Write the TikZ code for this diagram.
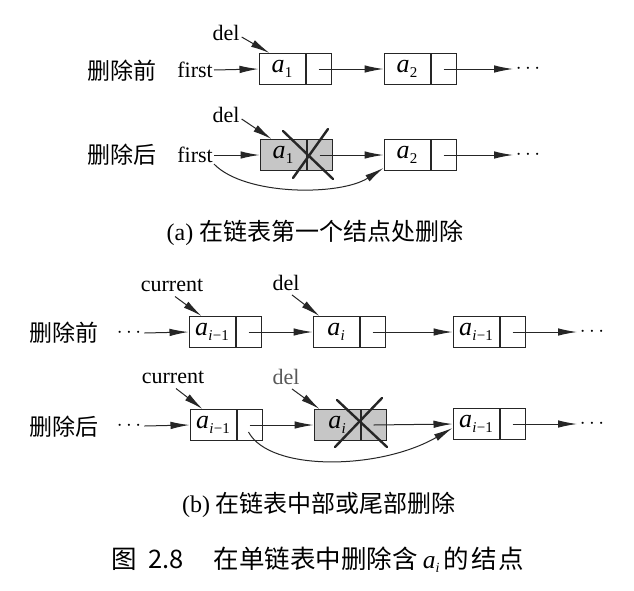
\documentclass[tikz,border=0pt]{standalone}
\usepackage{fontspec}
\setmainfont{Liberation Serif}
\newfontfamily\cjk{Noto Sans CJK SC}
\usetikzlibrary{arrows.meta,calc}
\newcommand\ael[1]{\textit{a}\kern0.3pt\raisebox{-5pt}{\fontsize{15}{15}\selectfont #1}}
\newcommand\imo{{\itshape i}\kern0.3pt−1}
\begin{document}
\begin{tikzpicture}[x=1pt,y=-1pt,
 cell/.style={draw=black!85, line width=1pt, minimum height=31pt, inner sep=0pt},
 datac/.style={cell, minimum width=46pt, font=\fontsize{26}{26}\selectfont},
 ptrc/.style={cell, minimum width=25pt, anchor=west},
 gone/.style={fill=gray!45},
 lbl/.style={font=\fontsize{22}{24}\selectfont, inner sep=1pt},
 side/.style={font=\cjk\fontsize{23}{26}\selectfont},
 link/.style={-{Latex[length=19pt,width=7.5pt]}, line width=1pt, black!85},
 cross/.style={line width=2.4pt, black!85, line cap=round},
 dots/.style={font=\fontsize{22}{22}\selectfont, inner sep=0pt}]
\useasboundingbox (0,0) rectangle (634,590);
\fill[white] (0,0) rectangle (634,590);
% ---------- (a) before
\node[side] (s1) at (122,71) {删除前};
\node[lbl, anchor=east] (f1) at (214,70) {first};
\node[lbl] (del1) at (226,33) {del};
\node[datac] (d11) at (282,69) {\ael{1}};
\node[ptrc] (p11) at (d11.east) {};
\node[datac] (d12) at (407,69) {\ael{2}};
\node[ptrc] (p12) at (d12.east) {};
\coordinate (e1) at (513,69);
\node[dots] (t1) at (528,69) {$\cdots$};
\draw[link] ($(del1.east)+(1,4)$) -- ($(d11.north west)+(11,0)$);
\draw[link] (f1.east) -- (d11.west);
\draw[link] (p11.center) -- (d12.west);
\draw[link] (p12.center) -- (e1);
% ---------- (a) after
\node[side] (s2) at (122,155) {删除后};
\node[lbl, anchor=east] (f2) at (214,155) {first};
\node[lbl] (del2) at (226,115) {del};
\node[datac, gone] (d21) at (283,155) {\ael{1}};
\node[ptrc, gone] (p21) at (d21.east) {};
\node[datac] (d22) at (407,155) {\ael{2}};
\node[ptrc] (p22) at (d22.east) {};
\coordinate (e2) at (513,155);
\node[dots] (t2) at (528,155) {$\cdots$};
\draw[link] ($(del2.east)+(1,4)$) -- ($(d21.north west)+(12,0)$);
\draw[link] (f2.east) -- (d21.west);
\draw[link] (p21.center) -- (d22.west);
\draw[link] (p22.center) -- (e2);
\draw[link] (f2.south east) .. controls (245,196) and (340,196) .. ($(d22.south west)+(0,-3)$);
\draw[cross] ($(d21.center)+(0,-24)$) -- ($(d21.center)+(50,24)$);
\draw[cross] ($(d21.center)+(45,-26)$) -- ($(d21.center)+(10,23)$);
\node[font=\fontsize{24}{26}\selectfont] (capa) at (315,233) {(a) {\cjk 在链表第一个结点处删除}};
% ---------- (b) before
\node[side] (s3) at (64,333) {删除前};
\node[dots] (t3) at (129,333) {$\cdots$};
\node[lbl] (cur3) at (172,285) {current};
\node[lbl] (del3) at (286,283) {del};
\node[datac] (d31) at (212,332) {\ael{\imo}};
\node[ptrc] (p31) at (d31.east) {};
\node[datac] (d32) at (336,332) {\ael{\textit{i}}};
\node[ptrc] (p32) at (d32.east) {};
\node[datac] (d33) at (476,332) {\ael{\imo}};
\node[ptrc] (p33) at (d33.east) {};
\coordinate (e3) at (577,332);
\node[dots] (t4) at (592,332) {$\cdots$};
\draw[link] ($(t3.east)+(3,0)$) -- (d31.west);
\draw[link] ($(cur3.south)+(3,4)$) -- ($(d31.north west)+(13,0)$);
\draw[link] ($(del3.south)+(6,3)$) -- ($(d32.north west)+(7,0)$);
\draw[link] (p31.center) -- (d32.west);
\draw[link] (p32.center) -- (d33.west);
\draw[link] (p33.center) -- (e3);
% ---------- (b) after
\node[side] (s4) at (64,427) {删除后};
\node[dots] (t5) at (129,426) {$\cdots$};
\node[lbl] (cur4) at (173,377) {current};
\node[lbl, text=black!65] (del4) at (286,377) {del};
\node[datac] (d41) at (213,425) {\ael{\imo}};
\node[ptrc] (p41) at (d41.east) {};
\node[datac, gone] (d42) at (337,425) {\ael{\textit{i}}};
\node[ptrc, gone] (p42) at (d42.east) {};
\node[datac] (d43) at (476,424) {\ael{\imo}};
\node[ptrc] (p43) at (d43.east) {};
\coordinate (e4) at (577,424);
\node[dots] (t6) at (592,424) {$\cdots$};
\draw[link] ($(t5.east)+(3,0)$) -- (d41.west);
\draw[link] ($(cur4.south)+(3,4)$) -- ($(d41.north west)+(13,0)$);
\draw[link] ($(del4.south)+(6,3)$) -- ($(d42.north west)+(6,0)$);
\draw[link] (p41.center) -- (d42.west);
\draw[link] (p42.center) -- (d43.west);
\draw[link] (p43.center) -- (e4);
\draw[link] ($(p41.center)+(-1,7)$) .. controls (270,472) and (380,470) .. ($(d43.west)+(0,4)$);
\draw[cross] ($(d42.center)+(0,-25)$) -- ($(d42.center)+(50,22)$);
\draw[cross] ($(d42.center)+(45,-27)$) -- ($(d42.center)+(-2,22)$);
\node[font=\fontsize{24}{26}\selectfont] (capb) at (319,505) {(b) {\cjk 在链表中部或尾部删除}};
% ---------- figure caption
\node[font=\fontsize{25.5}{27}\selectfont] (fig) at (318,560) {{\cjk 图\hspace{11pt}2.8\hspace{30pt}在单链表中删除含\hspace{5pt}}\textit{a}\raisebox{-4pt}{\fontsize{14}{14}\selectfont\textit{i}}{\cjk\hspace{4pt}的\hspace{2pt}结\hspace{2pt}点}};
\end{tikzpicture}
\end{document}
